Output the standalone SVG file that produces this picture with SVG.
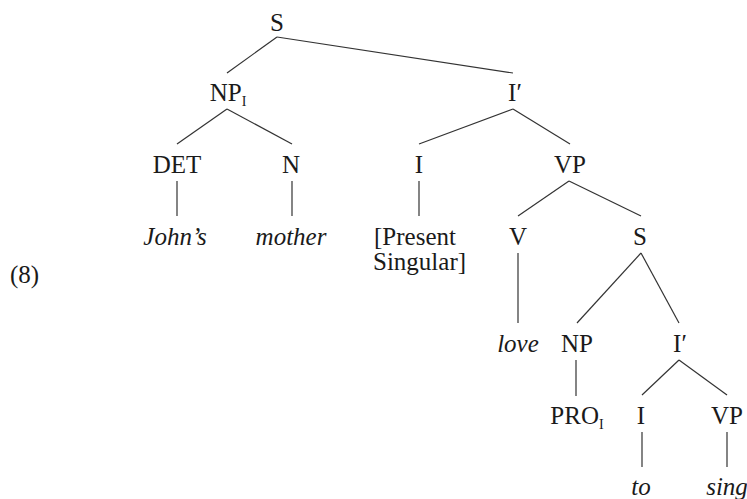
<svg xmlns="http://www.w3.org/2000/svg" width="747" height="499" viewBox="0 0 747 499">
<style>
  text { font-family: 'Liberation Serif', 'Tinos', 'DejaVu Serif', serif; font-size: 25px; fill: #1a1a1a; text-anchor: middle; }
  text.it { font-style: italic; }
  text.st { text-anchor: start; }
  .sub { font-size: 14px; }
  #edges line { stroke: #333; stroke-width: 1.2; fill: none; }
</style>
<rect width="747" height="499" fill="#fff"/>
<g id="edges">
  <line x1="277" y1="37" x2="227" y2="73"/>
  <line x1="277" y1="37" x2="513" y2="73"/>
  <line x1="227" y1="109" x2="177" y2="144"/>
  <line x1="227" y1="109" x2="292" y2="144"/>
  <line x1="513" y1="109" x2="419" y2="144"/>
  <line x1="513" y1="109" x2="570" y2="144"/>
  <line x1="177" y1="181" x2="177" y2="216"/>
  <line x1="292" y1="181" x2="292" y2="216"/>
  <line x1="419" y1="181" x2="419" y2="216"/>
  <line x1="569" y1="181" x2="518" y2="216"/>
  <line x1="569" y1="181" x2="641" y2="216"/>
  <line x1="518" y1="253" x2="518" y2="323"/>
  <line x1="641" y1="253" x2="577" y2="323"/>
  <line x1="641" y1="253" x2="679" y2="323"/>
  <line x1="576" y1="360" x2="576" y2="396"/>
  <line x1="679" y1="360" x2="642" y2="395"/>
  <line x1="679" y1="360" x2="727" y2="395"/>
  <line x1="642" y1="432" x2="642" y2="467"/>
  <line x1="727" y1="432" x2="727" y2="467"/>
</g>
<g id="label8"><text class="st" x="10" y="283">(8)</text></g>
<g id="S_root"><text x="277" y="31">S</text></g>
<g id="NP1"><text x="228" y="101">NP<tspan class="sub" dy="5">I</tspan></text></g>
<g id="Ibar1"><text x="515" y="101">I′</text></g>
<g id="DET"><text x="177" y="173">DET</text></g>
<g id="N"><text x="291" y="173">N</text></g>
<g id="I1"><text x="419" y="173">I</text></g>
<g id="VP1"><text x="570" y="173">VP</text></g>
<g id="Johns"><text class="it" x="175" y="245">John’s</text></g>
<g id="mother"><text class="it" x="291" y="245">mother</text></g>
<g id="PresentSingular"><text class="st" x="374" y="245">[Present</text><text class="st" x="373" y="270">Singular]</text></g>
<g id="V"><text x="518" y="245">V</text></g>
<g id="S2"><text x="640" y="245">S</text></g>
<g id="love"><text class="it" x="518" y="352">love</text></g>
<g id="NP2"><text x="577" y="352">NP</text></g>
<g id="Ibar2"><text x="680" y="352">I′</text></g>
<g id="PRO"><text x="577" y="424">PRO<tspan class="sub" dy="5">I</tspan></text></g>
<g id="I2"><text x="641" y="424">I</text></g>
<g id="VP2"><text x="727" y="424">VP</text></g>
<g id="to"><text class="it" x="641" y="495">to</text></g>
<g id="sing"><text class="it" x="727" y="495">sing</text></g>
</svg>
